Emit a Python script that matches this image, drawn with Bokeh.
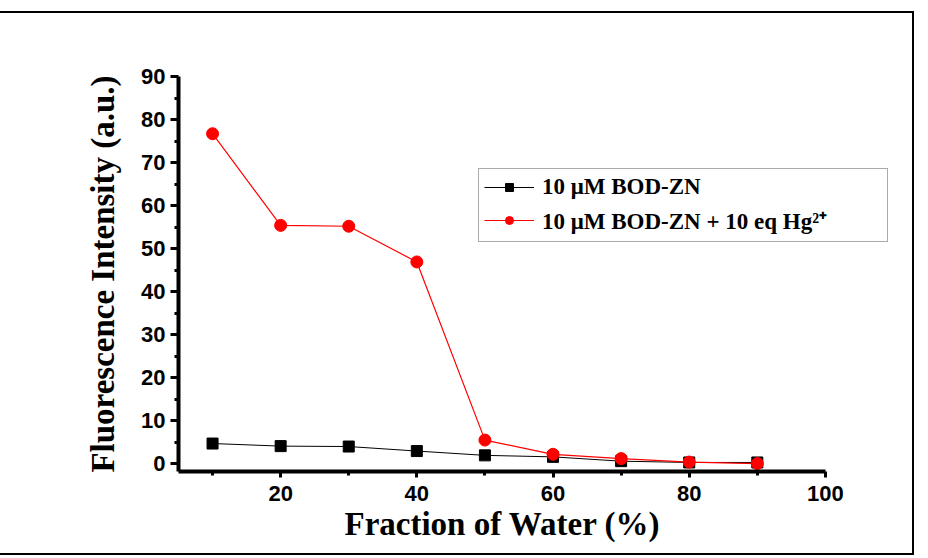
from bokeh.plotting import figure
from bokeh.models import Range1d, FixedTicker, Legend, LegendItem, Title
from bokeh.embed import file_html
from bokeh.resources import INLINE

water = [10, 20, 30, 40, 50, 60, 70, 80, 90]
bod_zn = [4.7, 4.1, 4.0, 2.95, 1.95, 1.6, 0.6, 0.3, 0.3]
bod_zn_hg = [76.7, 55.4, 55.2, 46.9, 5.5, 2.2, 1.2, 0.4, 0.05]

x_major = [20, 40, 60, 80, 100]
x_minor = [10, 30, 50, 70, 90]
y_major = [0, 10, 20, 30, 40, 50, 60, 70, 80, 90]
y_minor = [5, 15, 25, 35, 45, 55, 65, 75, 85]

x_title = "Fraction of Water (%)"
y_title = "Fluorescence Intensity (a.u.)"
label_black = "10 \u03bcM BOD-ZN"
label_red = "10 \u03bcM BOD-ZN + 10 eq Hg\u00b2\u207a"

p = figure(width=918, height=544, output_backend="svg", toolbar_location=None,
           x_range=Range1d(5, 110), y_range=Range1d(-1.8, 90),
           min_border_left=180, min_border_right=23, min_border_top=63, min_border_bottom=86,
           styles={"border": "2px solid black", "margin-left": "-4px",
                   "position": "relative", "top": "11px"})
p.outline_line_color = None
p.xgrid.visible = False
p.ygrid.visible = False
p.background_fill_color = "white"
p.border_fill_color = "white"

for ax in (p.xaxis[0], p.yaxis[0]):
    ax.axis_line_width = 4
    ax.axis_line_color = "black"
    ax.major_tick_line_width = 3
    ax.minor_tick_line_width = 3
    ax.major_tick_in = 0
    ax.minor_tick_in = 0
    ax.major_label_text_font = "Liberation Sans"
    ax.major_label_text_font_style = "bold"
    ax.major_label_text_font_size = "22px"
    ax.major_label_text_color = "black"
    ax.axis_label_text_font = "Liberation Serif"
    ax.axis_label_text_font_style = "bold"
    ax.axis_label_text_color = "black"

p.xaxis[0].bounds = (5, 100)
p.xaxis[0].ticker = FixedTicker(ticks=x_major, minor_ticks=x_minor)
p.yaxis[0].ticker = FixedTicker(ticks=y_major, minor_ticks=y_minor)
p.xaxis[0].major_tick_out = 6
p.xaxis[0].minor_tick_out = 4
p.yaxis[0].major_tick_out = 8
p.yaxis[0].minor_tick_out = 4
p.xaxis[0].major_label_standoff = 8
p.yaxis[0].major_label_standoff = 5
p.yaxis[0].axis_label = y_title
p.yaxis[0].axis_label_text_font_size = "33px"
p.yaxis[0].axis_label_standoff = 17

xt = Title(text=x_title, align="left", offset=166, standoff=0,
           text_font="Liberation Serif", text_font_style="bold",
           text_font_size="33px", text_color="black")
p.add_layout(xt, "below")

l1 = p.line(water, bod_zn, line_color="black", line_width=1)
s1 = p.scatter(water, bod_zn, marker="square", size=11, fill_color="black", line_color="black")
l2 = p.line(water, bod_zn_hg, line_color="#ff0000", line_width=1.2)
s2 = p.scatter(water, bod_zn_hg, marker="circle", size=12, fill_color="#ff0000", line_color="#ff0000")

legend = Legend(items=[LegendItem(label=label_black, renderers=[l1, s1]),
                       LegendItem(label=label_red, renderers=[l2, s2])],
                location=(300, 229))
legend.label_text_font = "Liberation Serif"
legend.label_text_font_style = "bold"
legend.label_text_font_size = "23px"
legend.label_text_color = "black"
legend.border_line_color = "#555555"
legend.border_line_width = 1.5
legend.glyph_width = 50
legend.label_standoff = 8
legend.label_width = 340
legend.padding = 5
legend.spacing = 4
legend.margin = 0
legend.background_fill_alpha = 1
p.add_layout(legend, "center")

open("out.html", "w").write(file_html(p, INLINE))
